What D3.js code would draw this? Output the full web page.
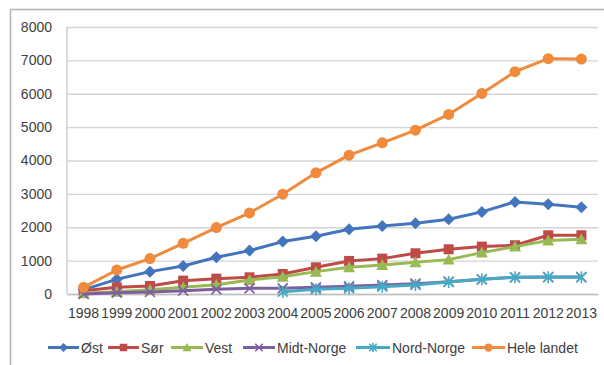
<!DOCTYPE html>
<html>
<head>
<meta charset="utf-8">
<script src="https://cdn.jsdelivr.net/npm/d3@7"></script>
<style>
  html, body { margin: 0; padding: 0; background: #fff; }
  svg { display: block; }
  text { font-family: "Liberation Sans", Arial, sans-serif; fill: #404040; }
</style>
</head>
<body>
<svg id="chart" width="604" height="365"></svg>
<script>
// Years on the category axis
const years = ["1998","1999","2000","2001","2002","2003","2004","2005",
               "2006","2007","2008","2009","2010","2011","2012","2013"];

// Series values per region (null = no data that year)
const ost        = [130, 440, 670, 840, 1100, 1300, 1570, 1730, 1940, 2040, 2120, 2240, 2460, 2760, 2690, 2600];
const sor        = [100, 200, 240, 400, 460, 500, 600, 800, 990, 1060, 1220, 1340, 1420, 1460, 1760, 1760];
const vest       = [20, 70, 130, 200, 280, 420, 520, 670, 800, 870, 950, 1030, 1240, 1420, 1600, 1640];
const midtNorge  = [0, 40, 60, 100, 140, 170, 170, 200, 230, 270, 310, 370, 440, 500, 510, 510];
const nordNorge  = [null, null, null, null, null, null, 70, 140, 170, 220, 270, 360, 440, 500, 500, 500];
const heleLandet = [200, 720, 1060, 1520, 1990, 2430, 2990, 3630, 4160, 4530, 4910, 5380, 6010, 6660, 7050, 7040];

const yTicks = [0, 1000, 2000, 3000, 4000, 5000, 6000, 7000, 8000];

const series = [
  { name: "Øst",         values: ost,        color: "#4375BF", marker: "diamond" },
  { name: "Sør",         values: sor,        color: "#BE4B48", marker: "square" },
  { name: "Vest",        values: vest,       color: "#98B954", marker: "triangle" },
  { name: "Midt-Norge",  values: midtNorge,  color: "#7D5FA0", marker: "cross" },
  { name: "Nord-Norge",  values: nordNorge,  color: "#46AAC5", marker: "star" },
  { name: "Hele landet", values: heleLandet, color: "#F08A3C", marker: "circle" }
];

const svg = d3.select("#chart");

// Outer chart frame
svg.append("rect")
  .attr("x", 10.5).attr("y", 9.5)
  .attr("width", 600).attr("height", 370)
  .attr("fill", "none").attr("stroke", "#b4b4b4").attr("stroke-width", 1.5);

const plot = { left: 67, right: 598, top: 27, bottom: 294 };

const x = d3.scaleBand().domain(years).range([plot.left, plot.right]);
const y = d3.scaleLinear().domain([0, 8000]).range([plot.bottom, plot.top]);
const cx = d => x(d) + x.bandwidth() / 2;

// Horizontal gridlines with value labels
const yAxis = svg.append("g")
  .attr("transform", `translate(${plot.left},0)`)
  .call(d3.axisLeft(y).tickValues(yTicks).tickSize(-(plot.right - plot.left)).tickPadding(15).tickFormat(d3.format("d")));
yAxis.select(".domain").remove();
yAxis.selectAll(".tick line").attr("stroke", "#d4d4d4").attr("stroke-width", 1.3);
yAxis.selectAll(".tick text").attr("font-size", 14).attr("fill", "#404040")
  .attr("font-family", "Liberation Sans, Arial, sans-serif");

// Vertical value axis line
svg.append("line")
  .attr("x1", plot.left).attr("x2", plot.left)
  .attr("y1", plot.top).attr("y2", plot.bottom)
  .attr("stroke", "#c8c8c8").attr("stroke-width", 1.3);

// Category axis
const xAxis = svg.append("g")
  .attr("transform", `translate(0,${plot.bottom})`)
  .call(d3.axisBottom(x).tickSize(0).tickPadding(14));
xAxis.select(".domain").attr("stroke", "#c0c0c0").attr("stroke-width", 1.3);
xAxis.selectAll(".tick text").attr("font-size", 14).attr("fill", "#404040")
  .attr("font-family", "Liberation Sans, Arial, sans-serif");

// Marker shapes
function drawMarker(g, type, px, py, color, s) {
  s = s || 1;
  switch (type) {
    case "diamond":
      g.append("path")
        .attr("d", `M${px},${py - 6 * s}L${px + 6 * s},${py}L${px},${py + 6 * s}L${px - 6 * s},${py}Z`)
        .attr("fill", color);
      break;
    case "square":
      g.append("rect")
        .attr("x", px - 5 * s).attr("y", py - 5 * s)
        .attr("width", 10 * s).attr("height", 10 * s)
        .attr("fill", color);
      break;
    case "triangle":
      g.append("path")
        .attr("d", `M${px},${py - 6 * s}L${px + 6 * s},${py + 5 * s}L${px - 6 * s},${py + 5 * s}Z`)
        .attr("fill", color);
      break;
    case "circle":
      g.append("circle").attr("cx", px).attr("cy", py).attr("r", 5.5 * s).attr("fill", color);
      break;
    case "cross":
      g.append("path")
        .attr("d", `M${px - 5 * s},${py - 5 * s}L${px + 5 * s},${py + 5 * s}M${px + 5 * s},${py - 5 * s}L${px - 5 * s},${py + 5 * s}`)
        .attr("stroke", color).attr("stroke-width", 1.6).attr("fill", "none");
      break;
    case "star":
      g.append("path")
        .attr("d", `M${px - 5 * s},${py - 5 * s}L${px + 5 * s},${py + 5 * s}M${px + 5 * s},${py - 5 * s}L${px - 5 * s},${py + 5 * s}M${px},${py - 6 * s}L${px},${py + 6 * s}`)
        .attr("stroke", color).attr("stroke-width", 1.6).attr("fill", "none");
      break;
  }
}

// Series lines and markers
const line = d3.line()
  .defined(d => d.v !== null)
  .x(d => cx(d.year))
  .y(d => y(d.v));

series.forEach(s => {
  const pts = years.map((yr, i) => ({ year: yr, v: s.values[i] }));
  const g = svg.append("g");
  g.append("path")
    .datum(pts)
    .attr("d", line)
    .attr("fill", "none")
    .attr("stroke", s.color)
    .attr("stroke-width", 3)
    .attr("stroke-linejoin", "round");
  pts.filter(d => d.v !== null).forEach(d => drawMarker(g, s.marker, cx(d.year), y(d.v), s.color));
});

// Legend
const legendItems = [
  { lx: 48,  tx: 81 },
  { lx: 108, tx: 141 },
  { lx: 171, tx: 205 },
  { lx: 243, tx: 277 },
  { lx: 356, tx: 392 },
  { lx: 472, tx: 507 }
];
const legend = svg.append("g");
series.forEach((s, i) => {
  const li = legendItems[i];
  const ly = 347.5;
  legend.append("line")
    .attr("x1", li.lx).attr("x2", li.tx - 2)
    .attr("y1", ly).attr("y2", ly)
    .attr("stroke", s.color).attr("stroke-width", 3);
  drawMarker(legend, s.marker, (li.lx + li.tx - 2) / 2, ly, s.color, 0.75);
  legend.append("text")
    .attr("x", li.tx).attr("y", ly + 5)
    .attr("font-size", 14)
    .text(s.name);
});
</script>
</body>
</html>
